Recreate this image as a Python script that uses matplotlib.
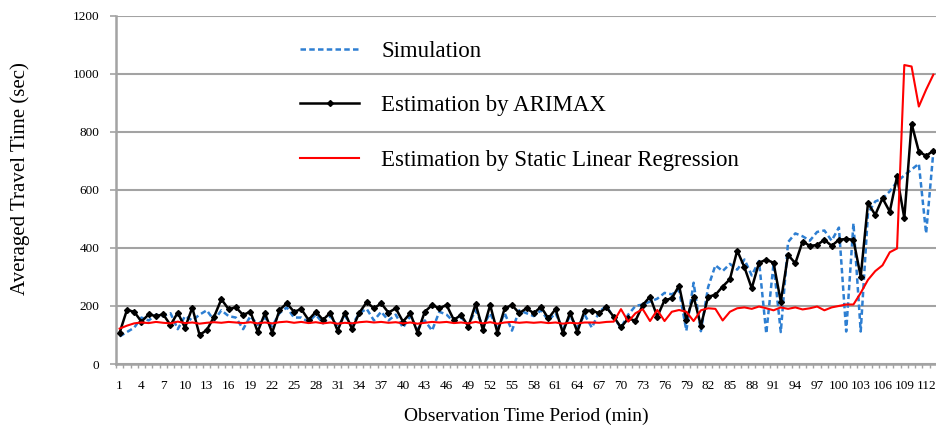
import numpy as np
import matplotlib
matplotlib.use("Agg")
import matplotlib.pyplot as plt

plt.rcParams['font.family'] = ['Liberation Serif', 'DejaVu Serif']

# 113 observation periods (x labels stop at 112, every 3rd)
periods = np.arange(1, 114)

simulation = [
    95, 110, 125, 160, 150, 170, 165, 175, 120, 165,
    150, 170, 185, 150, 185, 165, 160, 120, 165, 135,
    160, 130, 175, 195, 160, 160, 145, 170, 140, 165,
    130, 165, 135, 175, 190, 150, 180, 150, 170, 125,
    165, 120, 150, 115, 180, 170, 145, 160, 135, 185,
    130, 175, 120, 175, 115, 185, 175, 165, 185, 150,
    175, 120, 165, 125, 170, 125, 180, 200, 160, 125,
    170, 200, 205, 215, 225, 245, 240, 255, 115, 280,
    113, 265, 340, 320, 345, 325, 360, 305, 355, 105,
    345, 110, 420, 450, 440, 425, 455, 460, 425, 470,
    112, 485, 112, 520, 560, 570, 595, 628, 650, 670,
    690, 450, 732,
]

arimax = [
    108, 186, 180, 146, 171, 165, 171, 134, 177, 125,
    194, 100, 117, 163, 223, 189, 195, 169, 180, 111,
    175, 108, 186, 209, 180, 189, 152, 180, 152, 177,
    115, 177, 120, 177, 213, 192, 209, 177, 192, 146,
    175, 108, 180, 203, 192, 203, 152, 169, 129, 207,
    117, 203, 108, 192, 203, 175, 192, 175, 197, 157,
    189, 108, 177, 111, 184, 184, 175, 195, 163, 126,
    157, 149, 203, 232, 163, 220, 226, 270, 152, 232,
    132, 232, 238, 267, 292, 391, 333, 261, 349, 359,
    349, 215, 376, 347, 422, 407, 410, 428, 407, 428,
    431, 428, 301, 554, 514, 571, 525, 646, 503, 828,
    732, 717, 735,
]

static_lr = [
    122, 132, 140, 143, 141, 145, 142, 140, 146, 141,
    143, 139, 142, 144, 142, 145, 143, 141, 144, 140,
    143, 140, 144, 146, 142, 145, 141, 144, 140, 143,
    139, 142, 140, 144, 146, 143, 145, 142, 144, 140,
    143, 139, 142, 145, 143, 145, 141, 143, 140, 145,
    140, 144, 139, 143, 145, 142, 144, 142, 144, 141,
    143, 139, 142, 140, 143, 143, 142, 145, 146, 189,
    146, 175, 189, 148, 186, 148, 180, 186, 180, 148,
    185, 192, 190, 150, 180, 192, 195, 190, 198, 192,
    185, 195, 190, 195, 188, 192, 198, 185, 195, 200,
    205, 205, 245, 290, 320, 340, 385, 398, 1030, 1025,
    887, 945, 997,
]

fig = plt.figure(figsize=(9.37, 4.32), dpi=100)
ax = fig.add_axes([0.1238, 0.1574, 0.8762, 0.8063])

grid_c = '#a3a3a3'
ax.set_axisbelow(True)
ax.yaxis.grid(True, color=grid_c, linewidth=1.5)

ax.plot(periods, simulation, color='#2e7fd2', linewidth=1.8,
        linestyle=(0, (2.2, 1.3)), label='Simulation', zorder=2)
ax.plot(periods, arimax, color='black', linewidth=1.8, marker='D',
        markersize=3, label='Estimation by ARIMAX', zorder=3)
ax.plot(periods, static_lr, color='#ff0000', linewidth=1.5,
        label='Estimation by Static Linear Regression', zorder=4)

ax.set_xlim(0.5, 113.5)
ax.set_ylim(0, 1200)
ax.set_yticks(np.arange(0, 1201, 200))
ax.set_xticks(np.arange(1, 113, 3))
ax.set_xticks(np.arange(0.5, 114, 1), minor=True)
ax.tick_params(axis='x', which='major', length=0, labelsize=9.5, pad=11.5)
ax.tick_params(axis='x', which='minor', length=3, color=grid_c, width=1)
ax.tick_params(axis='y', length=4, color=grid_c, width=1.2,
               labelsize=9.5, pad=8)

for side in ['top', 'right']:
    ax.spines[side].set_visible(False)
for side in ['left', 'bottom']:
    ax.spines[side].set_color(grid_c)
    ax.spines[side].set_linewidth(1.8)

ax.set_xlabel('Observation Time Period (min)', fontsize=14, labelpad=11)
ax.set_ylabel('Averaged Travel Time (sec)', fontsize=15)
ax.yaxis.set_label_coords(-0.105, 0.532)

ax.legend(loc='upper left', bbox_to_anchor=(0.3202, 0.905),
          bbox_transform=fig.transFigure, frameon=False, fontsize=16.5,
          handlelength=2.58, handletextpad=0.96, labelspacing=1.45,
          borderpad=0, borderaxespad=0)

fig.savefig('out.png', dpi=100)
